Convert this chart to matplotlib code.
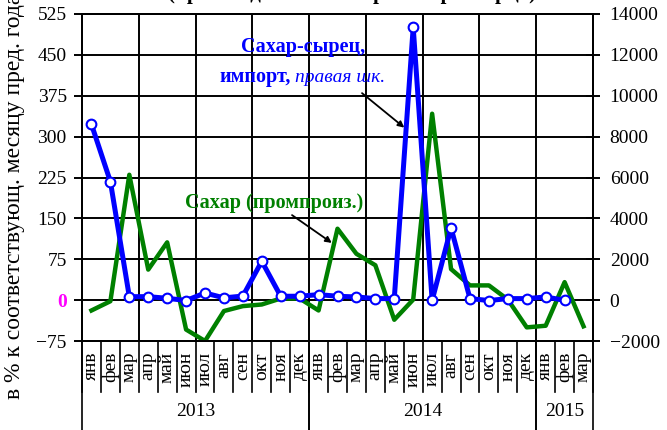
import matplotlib
matplotlib.use("Agg")
import matplotlib.pyplot as plt
from matplotlib.transforms import blended_transform_factory

plt.rcParams['font.family'] = ['Liberation Serif', 'DejaVu Serif']

# months Jan 2013 .. Mar 2015
months = ['янв', 'фев', 'мар', 'апр', 'май', 'июн',
          'июл', 'авг', 'сен', 'окт', 'ноя', 'дек'] * 2 + ['янв', 'фев', 'мар']
years = ['2013', '2014', '2015']
year_len = [12, 12, 3]

# sugar production, % y/y (left axis)
sugar_prod = [-19, -2, 230, 56, 106, -54, -75, -20, -11, -8, 3, 3,
              -19, 131, 85, 64, -36, 1, 342, 57, 27, 27, 1, -50, -47, 33, -48]
# raw sugar import, % y/y (right axis)
raw_import = [8600, 5800, 170, 170, 90, -20, 350, 110, 200, 1900, 190, 190,
              270, 190, 155, 75, 75, 13350, -10, 3530, 75, -20, 75, 75, 155, -10]

left_ticks = list(range(-75, 526, 75))
right_ticks = list(range(-2000, 14001, 2000))

fig = plt.figure(figsize=(6.67, 4.30), dpi=100)
ax = fig.add_axes([82 / 667, 89 / 430, 511 / 667, 327 / 430])
ax2 = ax.twinx()

x = list(range(len(months)))
ax.plot(x, sugar_prod, color='#008000', lw=3.2, zorder=3)
ax2.plot(x[:len(raw_import)], raw_import, color='#0000ff', lw=3.6,
         marker='o', ms=7, mfc='white', mec='#0000ff', mew=1.5, zorder=4)

ax.set_xlim(-0.5, len(months) - 0.5)
ax.set_ylim(-75, 525)
ax2.set_ylim(-2000, 14000)
ax.set_yticks(left_ticks)
ax2.set_yticks(right_ticks)
ax.set_xticks([])
ax2.set_xticks([])

# grid: horizontal every tick, vertical at quarter boundaries
for t in left_ticks:
    ax.axhline(t, color='black', lw=1.4, zorder=1)
for q in range(3, len(months), 3):
    ax.axvline(q - 0.5, color='black', lw=1.4, zorder=1)

for a in (ax, ax2):
    for s in a.spines.values():
        s.set_linewidth(1.4)

ax.tick_params(axis='y', direction='out', length=6, width=1.4, labelsize=14, pad=5)
ax2.tick_params(axis='y', direction='inout', length=10, width=1.4, labelsize=14, pad=7)

for lab, t in zip(ax.get_yticklabels(), left_ticks):
    lab.set_text(str(t))
    if t == 0:
        lab.set_color('#ff00ff')
        lab.set_fontweight('bold')

# category axis: months row and years row
tr = blended_transform_factory(ax.transData, ax.transAxes)
row = 51 / 327
full = 89 / 327
for i, m in enumerate(months):
    ax.text(i, -11 / 327, m, transform=tr, rotation=90, ha='center', va='top',
            fontsize=14)
for i in range(len(months) + 1):
    ax.plot([i - 0.5, i - 0.5], [0, -row], transform=tr, color='black',
            lw=1.2, clip_on=False)
start = 0
for y_lab, n in zip(years, year_len):
    ax.text(start + n / 2 - 0.5, -(row + full) / 2, y_lab, transform=tr,
            ha='center', va='center', fontsize=14)
    for edge in (start, start + n):
        ax.plot([edge - 0.5, edge - 0.5], [0, -full], transform=tr,
                color='black', lw=1.2, clip_on=False)
    start += n

# labels
fig.text(15 / 667, 1 - 196 / 430, 'в % к соответствующ. месяцу пред. года',
         rotation=90, ha='center', va='center', fontsize=17)
fig.text(352 / 667, 1 + 1 / 430, '(производство и импорт сахара-сырца)',
         ha='center', va='baseline', fontsize=15, fontweight='bold')

ax.text(0.4325, 0.899, 'Сахар-сырец,', transform=ax.transAxes, ha='center',
        va='center', color='#0000ff', fontsize=14.5, fontweight='bold', zorder=6)
ax.text(0.409, 0.807, 'импорт,', transform=ax.transAxes, ha='right',
        va='center', color='#0000ff', fontsize=14.5, fontweight='bold', zorder=6)
ax.text(0.417, 0.807, 'правая шк.', transform=ax.transAxes, ha='left',
        va='center', color='#0000ff', fontsize=14, style='italic', zorder=6)
ax.text(0.3757, 0.422, 'Сахар (промпроиз.)', transform=ax.transAxes,
        ha='center', va='center', color='#008000', fontsize=14.5,
        fontweight='bold', zorder=6)

arrow = dict(arrowstyle='-|>', color='black', lw=1.3, mutation_scale=9,
             shrinkA=0, shrinkB=0)
ax2.annotate('', xy=(16.53, 8440), xycoords='data',
             xytext=(0.548, 0.758), textcoords='axes fraction',
             arrowprops=arrow, zorder=6)
ax.annotate('', xy=(12.7, 105), xycoords='data',
            xytext=(0.411, 0.385), textcoords='axes fraction',
            arrowprops=arrow, zorder=6)

fig.savefig('out.png', dpi=100)
